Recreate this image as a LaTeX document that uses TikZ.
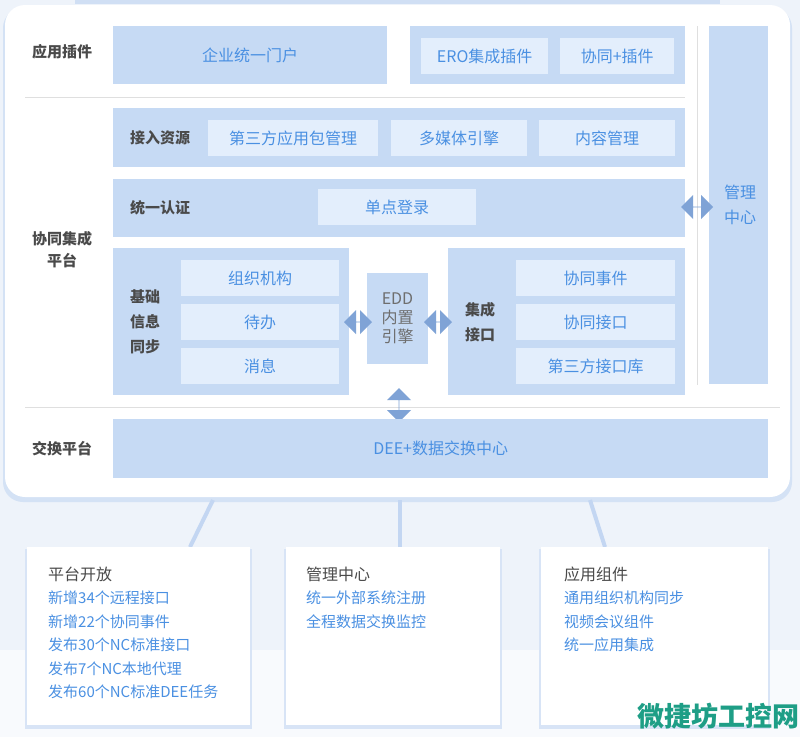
\documentclass[tikz,border=0pt]{standalone}
\usepackage{fontspec}
\setmainfont{Noto Sans CJK SC}
\usetikzlibrary{shapes.arrows}
\definecolor{bg}{HTML}{EEF3FA}
\definecolor{boxc}{HTML}{C6DAF4}
\definecolor{subc}{HTML}{E3EEFC}
\definecolor{tblue}{HTML}{4A90E2}
\definecolor{tdark}{HTML}{4A4A4A}
\definecolor{arr}{HTML}{7FA3D6}
\definecolor{lnk}{HTML}{C3D6F2}
\definecolor{wmc}{HTML}{1E9E86}
\begin{document}
\begin{tikzpicture}[x=1pt,y=-1pt,
  boxx/.style={fill=boxc,draw=none,inner sep=0pt,anchor=north west},
  subb/.style={fill=subc,draw=none,inner sep=0pt,anchor=north west,text=tblue,font=\fontsize{16}{19}\selectfont},
  lbl/.style={text=tdark,font=\bfseries\fontsize{15}{22}\selectfont,align=center},
  btxt/.style={text=tblue,font=\fontsize{16}{19}\selectfont,align=center},
  item/.style={text=tblue,font=\fontsize{15}{23.5}\selectfont,align=left,anchor=north west,inner sep=0pt},
  ttl/.style={text=tdark,font=\fontsize{16}{18}\selectfont,anchor=north west,inner sep=0pt},
  darr/.style={double arrow,fill=arr,draw=none,inner sep=0pt,double arrow head extend=6pt,minimum height=28pt,minimum width=24pt}]
\useasboundingbox (0,0) rectangle (800,737);
\fill[bg] (0,0) rectangle (800,737);
\fill[white!60!bg] (0,650) rectangle (800,737);
\fill[lnk!70!bg] (75,0) rectangle (720,4);
% main card
\fill[lnk!60!bg] (3,8) [rounded corners=20pt] rectangle (792,502);
\fill[white,rounded corners=20pt] (5,5) rectangle (790,497);
\draw[gray!25,line width=1pt] (25,97) -- (685,97);
\draw[gray!25,line width=1pt] (25,407) -- (780,407);
\draw[gray!25,line width=1pt] (697,26) -- (697,385);
% labels
\node[lbl] (l1) at (62,52) {应用插件};
\node[lbl] (l2) at (62,250) {协同集成\\平台};
\node[lbl] (l3) at (62,449) {交换平台};
% row 1
\node[boxx,minimum width=274pt,minimum height=58pt,btxt] (portal) at (113,26) {企业统一门户};
\node[boxx,minimum width=275pt,minimum height=58pt] (plug) at (410,26) {};
\node[subb,minimum width=127pt,minimum height=36pt] (ero) at (421,38) {ERO集成插件};
\node[subb,minimum width=114pt,minimum height=36pt] (xt) at (560,38) {协同+插件};
% mgmt column
\node[boxx,minimum width=59pt,minimum height=358pt] (mgmt) at (709,26) {};
\node[btxt,font=\fontsize{16}{25}\selectfont] (mgt) at (740,205) {管理\\中心};
% access row
\node[boxx,minimum width=572pt,minimum height=59pt] (acc) at (113,108) {};
\node[lbl] (accl) at (160,138) {接入资源};
\node[subb,minimum width=170pt,minimum height=36pt] (a1) at (208,120) {第三方应用包管理};
\node[subb,minimum width=136pt,minimum height=36pt] (a2) at (391,120) {多媒体引擎};
\node[subb,minimum width=136pt,minimum height=36pt] (a3) at (539,120) {内容管理};
% auth row
\node[boxx,minimum width=572pt,minimum height=58pt] (auth) at (113,179) {};
\node[lbl] (authl) at (160,208) {统一认证};
\node[subb,minimum width=158pt,minimum height=36pt] (sso) at (318,189) {单点登录};
\node[darr,minimum height=32pt] (ar1) at (697,207) {};
% base info
\node[boxx,minimum width=236pt,minimum height=147pt] (base) at (113,248) {};
\node[lbl,font=\bfseries\fontsize{15}{25}\selectfont] (basel) at (145,322) {基础\\信息\\同步};
\node[subb,minimum width=158pt,minimum height=36pt] (b1) at (181,260) {组织机构};
\node[subb,minimum width=158pt,minimum height=36pt] (b2) at (181,304) {待办};
\node[subb,minimum width=158pt,minimum height=36pt] (b3) at (181,348) {消息};
% EDD
\node[boxx,minimum width=61pt,minimum height=91pt] (edd) at (367,273) {};
\node[btxt,text=tdark!80,font=\fontsize{16}{19}\selectfont] (eddt) at (397.5,318.5) {EDD\\内置\\引擎};
% integration
\node[boxx,minimum width=237pt,minimum height=147pt] (integ) at (448,248) {};
\node[lbl,font=\bfseries\fontsize{15}{25}\selectfont] (integl) at (480,322) {集成\\接口};
\node[subb,minimum width=159pt,minimum height=36pt] (c1) at (516,260) {协同事件};
\node[subb,minimum width=159pt,minimum height=36pt] (c2) at (516,304) {协同接口};
\node[subb,minimum width=159pt,minimum height=36pt] (c3) at (516,348) {第三方接口库};
\node[darr] (ar2) at (358,322) {};
\node[darr] (ar3) at (438,322) {};
\node[darr,rotate=90,minimum height=34pt] (ar4) at (399,405) {};
% exchange
\node[boxx,minimum width=655pt,minimum height=59pt,btxt] (dee) at (113,419) {DEE+数据交换中心};
% links
\coordinate (k1) at (213,500); \coordinate (k2) at (400,500); \coordinate (k3) at (590,500);
\coordinate (m1) at (190,547); \coordinate (m2) at (400,547); \coordinate (m3) at (605,547);
\draw[lnk,line width=4pt] (k1) -- (m1);
\draw[lnk,line width=4pt] (k2) -- (m2);
\draw[lnk,line width=4pt] (k3) -- (m3);
% bottom cards
\foreach \x/\w in {27/223,286/214,541/227}{
  \fill[lnk!50!bg] (\x-2,549) rectangle (\x+\w+2,729);
  \fill[white] (\x,547) rectangle (\x+\w,725);
}
\node[ttl] (t1) at (48,567) {平台开放};
\node[item] (i1) at (48,591) {新增34个远程接口\\新增22个协同事件\\发布30个NC标准接口\\发布7个NC本地代理\\发布60个NC标准DEE任务};
\node[ttl] (t2) at (306,567) {管理中心};
\node[item] (i2) at (306,591) {统一外部系统注册\\全程数据交换监控};
\node[ttl] (t3) at (564,567) {应用组件};
\node[item] (i3) at (564,591) {通用组织机构同步\\视频会议组件\\统一应用集成};
\node[text=wmc,font=\bfseries\itshape\fontsize{27}{30}\selectfont,anchor=east,inner sep=0pt] (wm) at (800,716) {微捷坊工控网};
\end{tikzpicture}
\end{document}
